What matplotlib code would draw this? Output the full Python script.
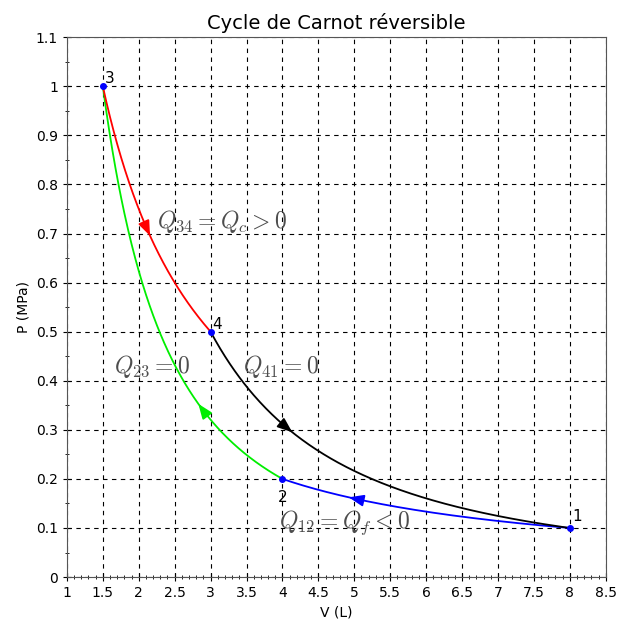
import numpy as np
import matplotlib.pyplot as plt
from matplotlib.ticker import MultipleLocator

plt.rcParams['mathtext.fontset'] = 'cm'

# state points of the cycle (V in L, P in MPa)
state_names = ['1', '2', '3', '4']
V_state = [8.0, 4.0, 1.5, 3.0]
P_state = [0.1, 0.2, 1.0, 0.5]

# adiabatic index deduced from the state points (2->3 and 4->1)
gamma = np.log(P_state[2] / P_state[1]) / np.log(V_state[1] / V_state[2])

# transformations: (start, end, kind, colour, arrow position as fraction)
transfos = [
    (0, 1, 'iso', 'blue', 0.76),
    (1, 2, 'adia', '#00ee00', 0.46),
    (2, 3, 'iso', 'red', 0.43),
    (3, 0, 'adia', 'black', 0.22),
]

heat_labels = [r'$Q_{12} = Q_f < 0$', r'$Q_{23} = 0$', r'$Q_{34} = Q_c > 0$', r'$Q_{41} = 0$']
label_xy = [(3.95, 0.11), (1.65, 0.43), (2.25, 0.725), (3.45, 0.43)]

fig = plt.figure(figsize=(6.31, 6.30), dpi=100)
ax = fig.add_axes([0.106, 0.084, 0.854, 0.857])

for i, j, kind, col, frac in transfos:
    v = np.linspace(V_state[i], V_state[j], 300)
    if kind == 'iso':
        p = P_state[i] * V_state[i] / v
    else:
        p = P_state[i] * (V_state[i] / v) ** gamma
    ax.plot(v, p, color=col, lw=1.3, zorder=2)
    k = int(frac * (len(v) - 1))
    ax.annotate('', xy=(v[k + 3], p[k + 3]), xytext=(v[k - 3], p[k - 3]),
                arrowprops=dict(arrowstyle='-|>,head_length=0.9,head_width=0.35',
                                color=col, lw=1.3, shrinkA=0, shrinkB=0),
                zorder=3)

ax.plot(V_state, P_state, 'o', color='blue', ms=4, zorder=4)

offsets = [(0.04, 0.008), (-0.07, -0.022), (0.03, 0.0), (0.03, 0.0)]
for name, v, p, (dx, dy) in zip(state_names, V_state, P_state, offsets):
    ax.text(v + dx, p + dy, name, fontsize=11, va='bottom' if dy >= 0 else 'top')

for lab, (x, y) in zip(heat_labels, label_xy):
    ax.text(x, y, lab, fontsize=17, color='#4d4d4d', va='center', ha='left')

ax.set_xlim(1, 8.5)
ax.set_ylim(0, 1.1)
ax.xaxis.set_major_locator(MultipleLocator(0.5))
ax.xaxis.set_minor_locator(MultipleLocator(0.1))
ax.yaxis.set_major_locator(MultipleLocator(0.1))
ax.yaxis.set_minor_locator(MultipleLocator(0.05))
ax.set_xticklabels([('%g' % t) for t in ax.get_xticks()])
ax.set_yticklabels([('%g' % t) for t in ax.get_yticks()])
ax.tick_params(which='major', direction='inout', length=6, labelsize=10)
ax.tick_params(which='minor', direction='inout', length=3)
ax.grid(True, which='major', linestyle=(0, (4, 4)), color='black', lw=0.8)
for s in ax.spines.values():
    s.set_color('#555555')

ax.set_xlabel('V (L)', fontsize=10)
ax.set_ylabel('P (MPa)', fontsize=10)
ax.set_title('Cycle de Carnot réversible', fontsize=14)

plt.savefig('out.png', dpi=100)
